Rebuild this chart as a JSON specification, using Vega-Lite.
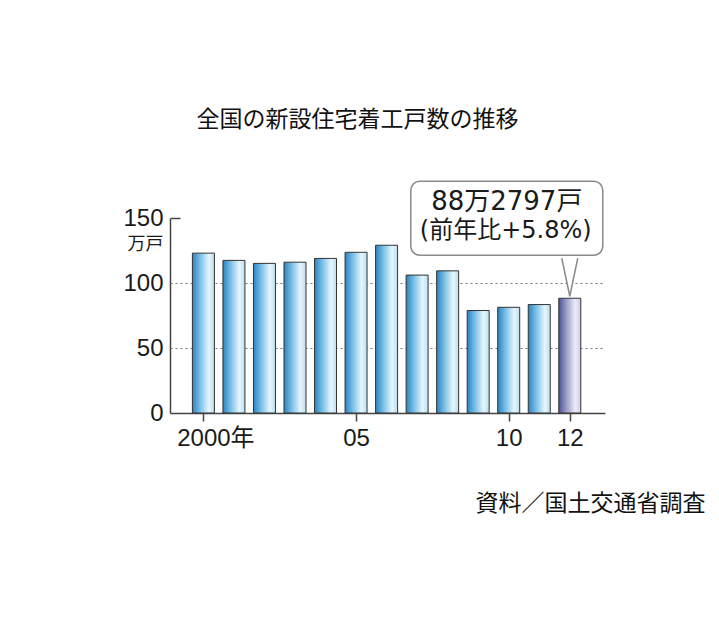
{
  "$schema": "https://vega.github.io/schema/vega-lite/v6.json",
  "width": 435,
  "height": 195,
  "autosize": {"type": "none"},
  "padding": {"left": 170, "top": 218, "right": 114, "bottom": 213},
  "background": "white",
  "config": {"view": {"stroke": null}},
  "title": {
    "text": "全国の新設住宅着工戸数の推移",
    "font": "Noto Sans CJK JP",
    "fontSize": 23,
    "fontWeight": "normal",
    "color": "#111111",
    "anchor": "middle",
    "frame": "group",
    "dx": -30,
    "dy": -4,
    "offset": 44
  },
  "datasets": {
    "starts": [
      {"year": 2000, "value": 122.98},
      {"year": 2001, "value": 117.39},
      {"year": 2002, "value": 115.10},
      {"year": 2003, "value": 116.01},
      {"year": 2004, "value": 118.90},
      {"year": 2005, "value": 123.62},
      {"year": 2006, "value": 129.04},
      {"year": 2007, "value": 106.07},
      {"year": 2008, "value": 109.35},
      {"year": 2009, "value": 78.84},
      {"year": 2010, "value": 81.31},
      {"year": 2011, "value": 83.41},
      {"year": 2012, "value": 88.28}
    ],
    "callout": [
      {"year": 2012, "value": 88.28, "line1": "88万2797戸", "line2": "(前年比+5.8%)"}
    ]
  },
  "layer": [
    {
      "data": {"name": "starts"},
      "mark": {"type": "bar", "size": 22, "stroke": "#333333", "strokeWidth": 1},
      "encoding": {
        "x": {
          "field": "year",
          "type": "quantitative",
          "scale": {"domain": [1999.07, 2012.99], "nice": false, "zero": false},
          "axis": {
            "values": [2000, 2005, 2010, 2012],
            "labelExpr": "datum.value == 2000 ? '2000年' : slice(toString(datum.value), 2)",
            "labelFont": "Liberation Sans, Noto Sans CJK JP",
            "labelFontSize": 24,
            "labelColor": "#1a1a1a",
            "labelPadding": 5,
            "labelOffset": {"condition": {"test": "datum.value == 2000", "value": 12}, "value": 0},
            "labelFlush": false,
            "labelOverlap": false,
            "tickSize": 8,
            "tickColor": "#444444",
            "tickWidth": 1.5,
            "domainColor": "#444444",
            "domainWidth": 1.5,
            "grid": false,
            "title": "資料／国土交通省調査",
            "titleFont": "Noto Sans CJK JP",
            "titleFontSize": 23,
            "titleFontWeight": "normal",
            "titleColor": "#111111",
            "titleAlign": "right",
            "titleAnchor": null,
            "titleBaseline": "middle",
            "titleX": 535,
            "titleY": 90
          }
        },
        "y": {
          "field": "value",
          "type": "quantitative",
          "scale": {"domain": [0, 150], "nice": false},
          "axis": {
            "values": [0, 50, 100, 150],
            "labelFont": "Liberation Sans",
            "labelFontSize": 24,
            "labelColor": "#1a1a1a",
            "labelPadding": 17,
            "labelFlush": false,
            "tickSize": -10,
            "tickColor": "#444444",
            "tickWidth": 1.5,
            "tickOpacity": {"condition": {"test": "datum.value == 150", "value": 1}, "value": 0},
            "domainColor": "#444444",
            "domainWidth": 1.5,
            "grid": true,
            "gridColor": "#777777",
            "gridDash": [2, 3],
            "gridWidth": 1.2,
            "gridOpacity": {"condition": {"test": "datum.value == 150 || datum.value == 0", "value": 0}, "value": 1},
            "title": "万戸",
            "titleFont": "Noto Sans CJK JP",
            "titleFontSize": 18,
            "titleFontWeight": "normal",
            "titleColor": "#1a1a1a",
            "titleAngle": 0,
            "titleAlign": "center",
            "titleBaseline": "middle",
            "titleX": -25,
            "titleY": 26
          }
        },
        "fill": {
          "condition": {
            "test": "datum.year == 2012",
            "value": {
              "gradient": "linear", "x1": 0, "x2": 1, "y1": 0, "y2": 0,
              "stops": [
                {"offset": 0, "color": "#4f5391"},
                {"offset": 0.35, "color": "#9c9dcb"},
                {"offset": 0.75, "color": "#ecebf8"},
                {"offset": 1, "color": "#cfcdea"}
              ]
            }
          },
          "value": {
            "gradient": "linear", "x1": 0, "x2": 1, "y1": 0, "y2": 0,
            "stops": [
              {"offset": 0, "color": "#2c82c0"},
              {"offset": 0.35, "color": "#78bfe6"},
              {"offset": 0.75, "color": "#e6f6fd"},
              {"offset": 1, "color": "#b9def1"}
            ]
          }
        }
      }
    },
    {
      "data": {"name": "callout"},
      "mark": {
        "type": "rect",
        "fill": "white",
        "stroke": "#8a8a8a",
        "strokeWidth": 1.5,
        "cornerRadius": 9,
        "xOffset": -159,
        "x2Offset": 33,
        "yOffset": -117,
        "y2Offset": -43
      },
      "encoding": {
        "x": {"field": "year", "type": "quantitative"},
        "x2": {"field": "year"},
        "y": {"field": "value", "type": "quantitative"},
        "y2": {"field": "value"}
      }
    },
    {
      "data": {"name": "callout"},
      "mark": {
        "type": "point",
        "shape": "M-0.42,-1 L0,1 L0.42,-1",
        "size": 1444,
        "filled": true,
        "fill": "white",
        "stroke": "#8a8a8a",
        "strokeWidth": 1.5,
        "opacity": 1,
        "yOffset": -21
      },
      "encoding": {
        "x": {"field": "year", "type": "quantitative"},
        "y": {"field": "value", "type": "quantitative"}
      }
    },
    {
      "data": {"name": "callout"},
      "mark": {
        "type": "text",
        "font": "DejaVu Sans, Noto Sans CJK JP",
        "fontSize": 26,
        "color": "#1a1a1a",
        "align": "center",
        "baseline": "middle",
        "dx": -63,
        "dy": -96
      },
      "encoding": {
        "x": {"field": "year", "type": "quantitative"},
        "y": {"field": "value", "type": "quantitative"},
        "text": {"field": "line1"}
      }
    },
    {
      "data": {"name": "callout"},
      "mark": {
        "type": "text",
        "font": "DejaVu Sans, Noto Sans CJK JP",
        "fontSize": 24,
        "color": "#1a1a1a",
        "align": "center",
        "baseline": "middle",
        "dx": -64,
        "dy": -67
      },
      "encoding": {
        "x": {"field": "year", "type": "quantitative"},
        "y": {"field": "value", "type": "quantitative"},
        "text": {"field": "line2"}
      }
    }
  ]
}
